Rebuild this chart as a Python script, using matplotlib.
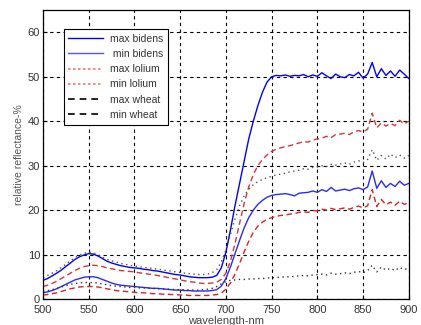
import numpy as np
import matplotlib
matplotlib.use("Agg")
import matplotlib.pyplot as plt
from matplotlib.lines import Line2D

plt.rcParams['font.family'] = ['Liberation Sans', 'DejaVu Sans']

# --- data (5 nm steps) ---
wavelength = list(range(500, 905, 5))

max_bidens = [
    4.2, 4.6, 5.2, 5.8, 6.5, 7.3, 8.1, 8.9, 9.5, 9.9,
    10.2, 10.1, 9.7, 9.1, 8.5, 8.1, 7.8, 7.5, 7.3, 7.1,
    7.0, 6.9, 6.7, 6.6, 6.4, 6.3, 6.1, 5.9, 5.7, 5.5,
    5.4, 5.2, 5.0, 4.9, 4.8, 4.8, 4.8, 4.9, 5.3, 7.0,
    10.5, 15.5, 21.0, 26.0, 31.0, 36.0, 40.0, 43.5, 46.5, 48.8,
    50.0, 50.3, 50.2, 50.4, 50.1, 50.3, 50.2, 50.5, 50.0, 50.4,
    50.1, 50.9, 50.2, 49.6, 50.6, 50.0, 49.8, 50.5, 50.2, 51.0,
    49.7, 50.6, 53.2, 50.0, 51.8, 50.3, 51.3, 50.1, 51.5, 50.6,
    49.6]

min_bidens = [
    1.4, 1.6, 1.9, 2.3, 2.8, 3.3, 3.8, 4.3, 4.6, 4.9,
    5.0, 5.0, 4.8, 4.4, 4.0, 3.6, 3.3, 3.1, 3.0, 2.9,
    2.8, 2.7, 2.6, 2.5, 2.4, 2.4, 2.3, 2.2, 2.1, 2.0,
    2.0, 1.9, 1.9, 1.8, 1.8, 1.8, 1.8, 1.9, 2.1, 2.9,
    4.6, 7.2, 10.2, 13.2, 16.0, 18.3, 20.0, 21.3, 22.2, 22.9,
    23.3, 23.5, 23.6, 23.7, 23.5, 23.2, 23.8, 23.9, 24.0, 24.3,
    24.0, 24.6, 24.2, 25.1, 24.3, 24.5, 24.7, 24.4, 24.8, 25.0,
    24.6, 25.2, 28.8, 24.9, 26.6, 25.1, 26.0, 25.3, 26.5, 25.6,
    26.0]

max_lolium = [
    2.8, 3.1, 3.5, 4.0, 4.6, 5.2, 5.8, 6.4, 6.9, 7.3,
    7.5, 7.6, 7.5, 7.3, 7.0, 6.8, 6.6, 6.4, 6.3, 6.2,
    6.1, 5.9, 5.8, 5.6, 5.5, 5.3, 5.1, 4.9, 4.7, 4.5,
    4.3, 4.1, 3.9, 3.8, 3.6, 3.5, 3.5, 3.6, 3.8, 4.4,
    5.8, 8.5, 12.5, 17.0, 21.5, 25.2, 28.0, 30.0, 31.4, 32.4,
    33.2, 33.7, 34.0, 34.3, 34.5, 34.8, 35.1, 35.4, 35.3, 35.8,
    36.0, 36.2, 36.6, 36.3, 37.0, 37.1, 37.3, 37.0, 37.6, 37.9,
    37.6, 38.2, 41.8, 38.5, 39.6, 38.9, 39.5, 39.0, 40.2, 39.4,
    40.0]

min_lolium = [
    0.9, 1.0, 1.2, 1.4, 1.7, 2.0, 2.3, 2.5, 2.7, 2.8,
    2.8, 2.8, 2.7, 2.5, 2.3, 2.1, 1.9, 1.8, 1.7, 1.6,
    1.5, 1.4, 1.4, 1.3, 1.2, 1.2, 1.1, 1.1, 1.0, 1.0,
    0.9, 0.9, 0.8, 0.8, 0.8, 0.8, 0.8, 0.9, 1.0, 1.3,
    2.2, 3.6, 5.6, 8.0, 10.6, 13.0, 15.0, 16.4, 17.3, 17.9,
    18.3, 18.6, 18.8, 18.9, 19.1, 19.2, 19.5, 19.6, 19.5, 19.9,
    19.8, 20.2, 20.0, 20.4, 20.1, 20.3, 20.5, 20.2, 20.6, 20.9,
    20.5, 21.0, 24.6, 20.8, 22.4, 21.2, 21.8, 21.1, 22.0, 21.3,
    21.6]

max_wheat = [
    4.8, 5.3, 5.8, 6.4, 7.1, 7.8, 8.6, 9.3, 9.9, 10.3,
    10.5, 10.4, 10.0, 9.4, 8.9, 8.6, 8.3, 8.0, 7.8, 7.6,
    7.4, 7.3, 7.1, 7.0, 6.9, 6.7, 6.6, 6.4, 6.3, 6.1,
    6.0, 5.8, 5.7, 5.6, 5.5, 5.5, 5.6, 5.9, 6.6, 8.3,
    11.0, 14.5, 18.0, 21.0, 23.2, 24.7, 25.7, 26.4, 26.9, 27.3,
    27.6, 27.9, 28.1, 28.3, 28.6, 28.8, 29.0, 29.3, 29.2, 29.6,
    29.7, 30.0, 29.8, 30.3, 30.1, 30.4, 30.6, 30.3, 30.8, 31.1,
    30.7, 31.4, 33.6, 31.2, 32.3, 31.5, 32.6, 31.8, 32.4, 31.7,
    32.3]

min_wheat = [
    1.7, 1.9, 2.1, 2.4, 2.7, 3.0, 3.3, 3.5, 3.6, 3.7,
    3.7, 3.7, 3.6, 3.4, 3.2, 3.0, 2.9, 2.8, 2.7, 2.6,
    2.6, 2.5, 2.5, 2.4, 2.4, 2.3, 2.3, 2.2, 2.2, 2.1,
    2.1, 2.1, 2.0, 2.0, 2.0, 2.1, 2.2, 2.4, 2.8, 3.4,
    3.9, 4.2, 4.3, 4.4, 4.4, 4.5, 4.5, 4.6, 4.6, 4.7,
    4.8, 4.8, 4.9, 5.0, 5.0, 5.1, 5.2, 5.3, 5.2, 5.4,
    5.5, 5.6, 5.4, 5.8, 5.6, 5.7, 5.9, 5.7, 6.0, 6.2,
    5.9, 6.4, 7.6, 6.1, 7.2, 6.5, 6.9, 6.4, 7.1, 6.6,
    7.0]

legend_labels = ['max bidens', ' min bidens', 'max lolium', 'min lolium',
                 'max wheat', 'min wheat']

# --- plot ---
fig = plt.figure(figsize=(4.21, 3.25), dpi=100)
ax = fig.add_axes([0.102, 0.08, 0.869, 0.889])

ax.plot(wavelength, max_bidens, color='#0000ff', lw=1.0)
ax.plot(wavelength, min_bidens, color='#2a2aff', lw=1.0)
ax.plot(wavelength, max_lolium, color='#cc3a3a', lw=1.0, ls=(0, (4, 2.5)))
ax.plot(wavelength, min_lolium, color='#dd2222', lw=1.0, ls=(0, (4, 2.5)))
ax.plot(wavelength, max_wheat, color='#555555', lw=1.0, ls=(0, (1, 2.5)))
ax.plot(wavelength, min_wheat, color='#333333', lw=1.0, ls=(0, (1, 2.5)))

ax.set_xlim(500, 900)
ax.set_ylim(0, 65)
ax.set_xticks(range(500, 901, 50))
ax.set_yticks(range(0, 61, 10))
ax.grid(True, color='black', ls=(0, (3, 3)), lw=0.8)
ax.tick_params(direction='in', labelsize=8, labelcolor='#333333',
               length=3)
ax.tick_params(axis='x', pad=4)
ax.tick_params(axis='y', pad=2)
for s in ax.spines.values():
    s.set_linewidth(0.9)

ax.set_xlabel('wavelength-nm', fontsize=8, color='#444444', labelpad=1)
ax.set_ylabel('relative reflectance-%', fontsize=7.5, color='#555555',
              labelpad=3)

handles = [
    Line2D([], [], color='#0000ff', lw=1.0),
    Line2D([], [], color='#5555ff', lw=1.0),
    Line2D([], [], color='#ff7070', lw=1.2, ls=(0, (1.5, 1.5))),
    Line2D([], [], color='#ff7070', lw=1.2, ls=(0, (1.5, 1.5))),
    Line2D([], [], color='black', lw=1.2, ls=(0, (4, 3))),
    Line2D([], [], color='black', lw=1.2, ls=(0, (4, 3))),
]
leg = ax.legend(handles, legend_labels, loc='upper left',
                bbox_to_anchor=(0.057, 0.934), borderaxespad=0,
                fontsize=7.5, handlelength=3.3, handletextpad=0.7,
                labelspacing=0.5, fancybox=False, framealpha=1,
                edgecolor='black', borderpad=0.45)
leg.get_frame().set_linewidth(0.8)
for t in leg.get_texts():
    t.set_color('#333333')

fig.savefig('out.png', dpi=100)
